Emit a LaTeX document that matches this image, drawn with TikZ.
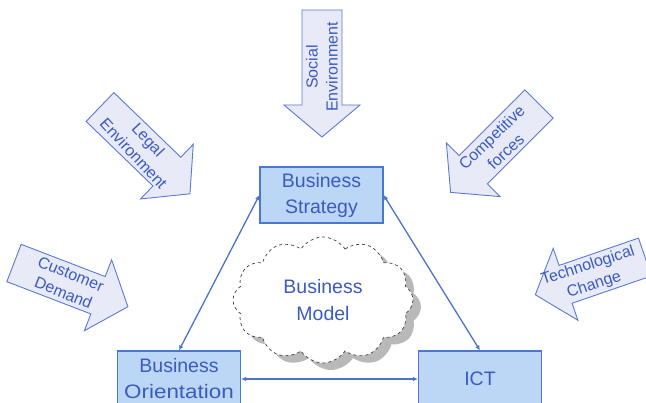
\documentclass[tikz,border=0pt]{standalone}
\usepackage{fontspec}
\setmainfont{Liberation Sans}
\newfontfamily\widefont[FakeStretch=1.15]{Liberation Sans}
\usetikzlibrary{shapes.symbols,arrows.meta}
\definecolor{txtblue}{HTML}{3A5BC0}
\definecolor{boxfill}{HTML}{BCD6F5}
\definecolor{boxline}{HTML}{4A78D0}
\definecolor{arrfill}{HTML}{E8EAF8}
\definecolor{arrline}{HTML}{5A7AD2}
\definecolor{linkcol}{HTML}{4A74CC}
\tikzset{
  bigarrow/.style={draw=arrline, fill=arrfill, line width=0.9pt, line join=miter},
  arrtext/.style={text=txtblue, font=\fontsize{16}{20}\selectfont, align=center, inner sep=0pt},
  box/.style={draw=boxline, fill=boxfill, line width=1.1pt, minimum width=123pt, minimum height=56pt,
    text=txtblue, font=\fontsize{19.5}{26}\selectfont, align=center, inner sep=0pt},
  link/.style={draw=linkcol, line width=1.3pt, {Latex[length=5pt,width=4.5pt]}-{Latex[length=5pt,width=4.5pt]}},
  cloudsh/.style={cloud, cloud puffs=12, cloud puff arc=115, aspect=1.45, minimum width=180pt,
    minimum height=126pt, inner sep=0pt}
}
\newcommand\bigarr[6]{%
  \begin{scope}[shift={(#1,#2)}, rotate=#3]
    \draw[bigarrow] (0,-20) -- ({#4-32},-20) -- ({#4-32},-38) -- (#4,0) -- ({#4-32},38) -- ({#4-32},20) -- (0,20) -- cycle;
    \node[arrtext, rotate=#5] at (57,0) {#6};
  \end{scope}}
\begin{document}
\begin{tikzpicture}[x=1pt,y=-1pt]
\useasboundingbox (0,0) rectangle (646,403);
\clip (0,0) rectangle (646,403);
\fill[white] (0,0) rectangle (646,403);

\bigarr{322}{10}{-90}{127}{90}{Social\\Environment}
\bigarr{100}{107}{-44}{125}{-47}{Legal\\Environment}
\bigarr{14}{263}{-21}{122}{-22}{Customer\\Demand}
\bigarr{539}{104}{-135}{125}{44}{Competitive\\forces}
\bigarr{645}{257}{-161}{116}{18}{Technological\\Change}

\node[box] (strat) at (321.5,195) {Business\\Strategy};
\node[box] (bo) at (179,379) {Business\\{\widefont Orientation}};
\node[box] (ict) at (480,379) {ICT};

\node[cloudsh, fill=gray!55] (cshadow) at (331,307) {};
\node[cloudsh, fill=white, draw=black!75, dashed, line width=0.7pt, text=txtblue,
  font=\fontsize{19.5}{27}\selectfont, align=center] (cloud) at (323,300) {Business\\Model};

\draw[link] (strat.west) -- (bo.north);
\draw[link] (strat.east) -- (ict.north);
\draw[link] (bo.east) -- (ict.west);
\end{tikzpicture}
\end{document}
